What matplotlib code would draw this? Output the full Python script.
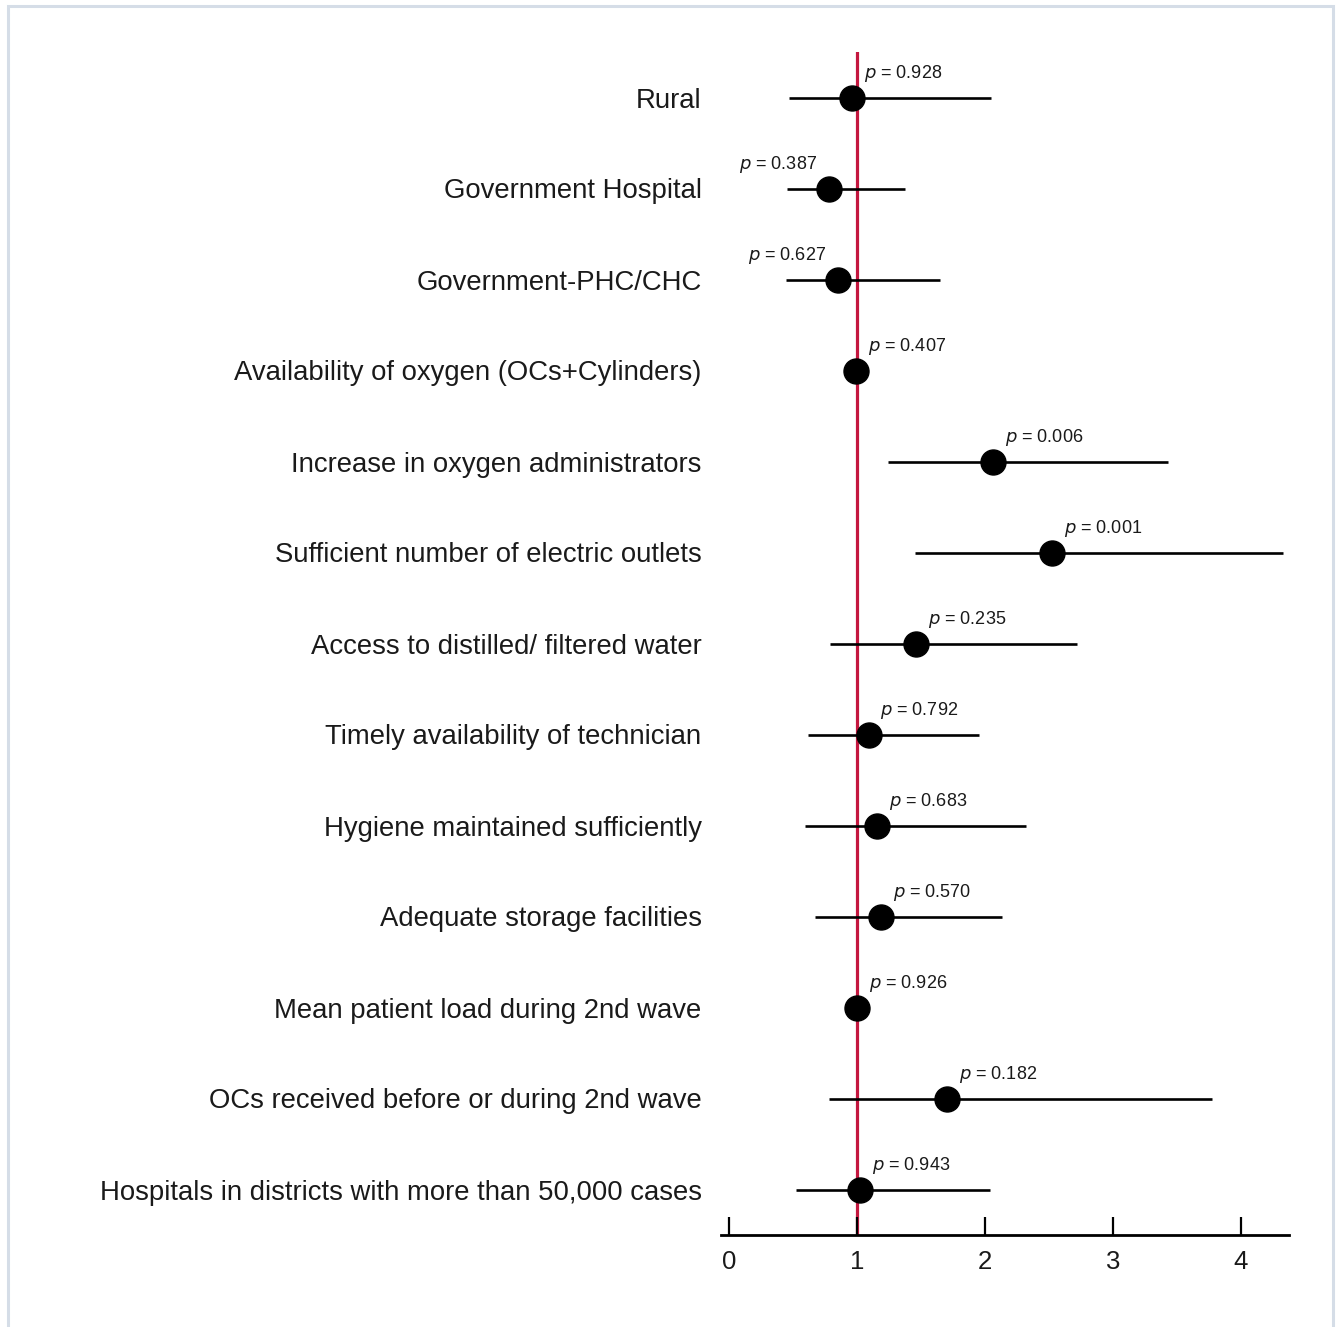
import matplotlib
matplotlib.use("Agg")
import matplotlib.pyplot as plt
from matplotlib.patches import Rectangle

# ---------------- data ----------------
factors = [
    "Rural",
    "Government Hospital",
    "Government-PHC/CHC",
    "Availability of oxygen (OCs+Cylinders)",
    "Increase in oxygen administrators",
    "Sufficient number of electric outlets",
    "Access to distilled/ filtered water",
    "Timely availability of technician",
    "Hygiene maintained sufficiently",
    "Adequate storage facilities",
    "Mean patient load during 2nd wave",
    "OCs received before or during 2nd wave",
    "Hospitals in districts with more than 50,000 cases",
]
odds_ratio = [0.96, 0.78, 0.85, 0.99, 2.06, 2.52, 1.46, 1.09, 1.16, 1.19, 1.00, 1.70, 1.02]
ci_low = [0.47, 0.45, 0.445, 0.98, 1.24, 1.45, 0.79, 0.62, 0.59, 0.67, 0.99, 0.78, 0.52]
ci_high = [2.05, 1.375, 1.65, 1.00, 3.43, 4.33, 2.72, 1.95, 2.32, 2.13, 1.01, 3.77, 2.04]
p_values = ["0.928", "0.387", "0.627", "0.407", "0.006", "0.001", "0.235",
            "0.792", "0.683", "0.570", "0.926", "0.182", "0.943"]
label_side = ["right", "left", "left", "right", "right", "right", "right",
              "right", "right", "right", "right", "right", "right"]
x_ticks = [0, 1, 2, 3, 4]

# ---------------- figure ----------------
plt.rcParams["font.family"] = ["Liberation Sans", "DejaVu Sans"]
W, H = 1338, 1327
fig = plt.figure(figsize=(W / 100, H / 100), dpi=100)
fig.patch.set_facecolor("white")

# light border around the panel
fig.add_artist(Rectangle((8 / W, -0.01), (1333 - 8) / W, 1.01 - 6 / H,
                         transform=fig.transFigure, fill=False,
                         edgecolor="#d5dde7", linewidth=2.2))

ax_left, ax_right = 721, 1289
ax_top, ax_bottom = 52, 1235
ax = fig.add_axes([ax_left / W, 1 - ax_bottom / H,
                   (ax_right - ax_left) / W, (ax_bottom - ax_top) / H])

n = len(factors)
ypos = list(range(n))

ax.axvline(1, color="#c4173f", linewidth=2.3, zorder=1)

for y, o, lo, hi, p, side in zip(ypos, odds_ratio, ci_low, ci_high, p_values, label_side):
    ax.plot([lo, hi], [y, y], color="black", linewidth=1.9, solid_capstyle="butt", zorder=2)
    ax.plot([o], [y], marker="o", markersize=18, color="black", zorder=3)
    if side == "right":
        off, ha = 8.6, "left"
    else:
        off, ha = -8.6, "right"
    ax.annotate(r"$\it{p}$" + " = " + p, xy=(o, y), xytext=(off, 17.5),
                textcoords="offset points", ha=ha, va="center",
                fontsize=13, color="#1a1a1a")

ax.set_xlim(-0.0625, 4.375)
ax.set_ylim(n - 0.5, -0.5)
ax.set_yticks(ypos)
ax.set_yticklabels(factors, fontsize=19.8, color="#1a1a1a")
ax.set_xticks(x_ticks)
ax.set_xticklabels([str(t) for t in x_ticks], fontsize=18.5, color="#1a1a1a")

for s in ["top", "right", "left"]:
    ax.spines[s].set_visible(False)
ax.spines["bottom"].set_linewidth(2.0)
ax.tick_params(axis="x", direction="in", length=13, width=1.6, pad=11)
ax.tick_params(axis="y", length=0, pad=14)
ax.set_facecolor("none")

fig.savefig("out.png", dpi=100, facecolor="white")
